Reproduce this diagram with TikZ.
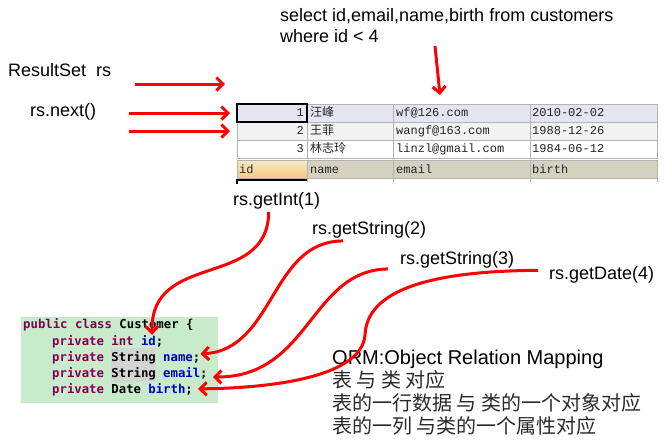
\documentclass[tikz,border=0pt]{standalone}
\usepackage{fontspec}
\setmainfont{Liberation Sans}
\newfontfamily\cjk{Noto Sans CJK SC}
\newfontfamily\codefont{DejaVu Sans Mono}
\newfontfamily\tabfont{Liberation Mono}
\usetikzlibrary{arrows.meta}
\definecolor{arrred}{HTML}{FF0000}
\definecolor{kw}{HTML}{7F0055}
\definecolor{fld}{HTML}{0000C0}
\definecolor{codebg}{HTML}{C8ECCB}
\definecolor{hl}{HTML}{D4D4D4}
\definecolor{rowa}{HTML}{E3E6F1}
\definecolor{rowb}{HTML}{F3F3F3}
\definecolor{hdr}{HTML}{D5D1C1}
\definecolor{hdrtop}{HTML}{FBE9C6}
\definecolor{hdrbot}{HTML}{F2CA84}
\definecolor{gridc}{HTML}{B4B4B4}
\definecolor{tabtxt}{HTML}{262626}
\definecolor{cntxt}{HTML}{2A2A2A}
\begin{document}
\begin{tikzpicture}[x=1pt,y=-1pt,
  lbl/.style={inner sep=0pt,anchor=base west,font=\fontsize{18}{21}\selectfont},
  cnline/.style={inner sep=0pt,anchor=base west,text=cntxt,font=\cjk\fontsize{20}{23}\selectfont},
  tab/.style={inner sep=0pt,anchor=base west,text=tabtxt,font=\tabfont\fontsize{12}{14}\selectfont},
  tabcn/.style={inner sep=0pt,anchor=base west,text=tabtxt,font=\cjk\fontsize{12}{14}\selectfont},
  code/.style={inner sep=0pt,anchor=base west,font=\codefont\bfseries\fontsize{12.3}{15}\selectfont},
  redarr/.style={draw=arrred,line width=3pt,-{Straight Barb[length=6.5pt,width=13pt]}},
  cell/.style={draw=gridc,line width=0.8pt,minimum height=18pt,inner sep=0pt,outer sep=0pt,anchor=north west},
]
\useasboundingbox (0,0) rectangle (672,440);

% ---- SQL text ----
\node[lbl] (sql1) at (280,21) {select id,email,name,birth from customers};
\node[lbl] (sql2) at (280,42) {where id < 4};

% ---- left labels ----
\node[lbl] (rs) at (8,76) {ResultSet\ \ rs};
\node[lbl] (next) at (30,116) {rs.next()};

% ---- table ----
\foreach \r/\y/\f in {1/104/rowa,2/122/rowb,3/140/white}{
  \foreach \c/\x/\w in {1/237/70,2/307/86,3/393/137,4/530/127}{
    \node[cell,fill=\f,minimum width=\w pt] (c\r\c) at (\x,\y) {};
  }
}
\foreach \c/\x/\w in {1/237/70,2/307/86,3/393/137,4/530/127}{
  \node[cell,fill=hdr,minimum width=\w pt] (h\c) at (\x,160) {};
}
\node[cell,top color=hdrtop,bottom color=hdrbot,minimum width=70pt] (h1) at (237,160) {};
\draw[black,line width=2pt] (c11.north west) rectangle (c11.south east);
\draw[black,line width=2pt] (h1.south west) ++(0,6) -- ++(0,-4) -- ++(70,0);
\draw[gridc,line width=0.8pt] (h2.south west) -- ++(0,4) (h3.south west) -- ++(0,4) (h4.south west) -- ++(0,4) (h4.south east) -- ++(0,4);

\node[tab,anchor=base east] (v11) at (304,116.5) {1};
\node[tabcn] (v12) at (310,116.5) {汪峰};
\node[tab] (v13) at (396,116.5) {wf@126.com};
\node[tab] (v14) at (532,116.5) {2010-02-02};
\node[tab,anchor=base east] (v21) at (304,134.5) {2};
\node[tabcn] (v22) at (310,134.5) {王菲};
\node[tab] (v23) at (396,134.5) {wangf@163.com};
\node[tab] (v24) at (532,134.5) {1988-12-26};
\node[tab,anchor=base east] (v31) at (304,152.5) {3};
\node[tabcn] (v32) at (310,152.5) {林志玲};
\node[tab] (v33) at (396,152.5) {linzl@gmail.com};
\node[tab] (v34) at (532,152.5) {1984-06-12};
\node[tab] (t1) at (239,173) {id};
\node[tab] (t2) at (310,173) {name};
\node[tab] (t3) at (396,173) {email};
\node[tab] (t4) at (532,173) {birth};

% ---- getter labels ----
\node[lbl] (gi) at (233,205) {rs.getInt(1)};
\node[lbl] (gs2) at (312,234) {rs.getString(2)};
\node[lbl] (gs3) at (400,264) {rs.getString(3)};
\node[lbl] (gd4) at (549,279) {rs.getDate(4)};

% ---- code box ----
\node[fill=codebg,anchor=north west,minimum width=197pt,minimum height=86pt,inner sep=0pt] (codebox) at (21,317) {};
\fill[hl] (111,348) rectangle (156,382);
\node[code] (cl1) at (23,328) {\textcolor{kw}{public class} Customer \{};
\node[code] (cl2) at (52,345) {\textcolor{kw}{private int}};
\node[code] (fid) at (140.8,345) {\textcolor{fld}{id};};
\node[code] (cl3) at (52,361) {\textcolor{kw}{private} String};
\node[code] (fname) at (163,361) {\textcolor{fld}{name};};
\node[code] (cl4) at (52,377) {\textcolor{kw}{private} String};
\node[code] (femail) at (163,377) {\textcolor{fld}{email};};
\node[code] (cl5) at (52,393) {\textcolor{kw}{private} Date};
\node[code] (fbirth) at (148.2,393) {\textcolor{fld}{birth};};

% ---- ORM text ----
\node[lbl,font=\fontsize{20}{24}\selectfont] (orm) at (332,364) {ORM:Object Relation Mapping};
\node[cnline] (cn1) at (332,387) {表 与 类 对应};
\node[cnline] (cn2) at (332,410) {表的一行数据 与 类的一个对象对应};
\node[cnline] (cn3) at (332,433) {表的一列 与类的一个属性对应};

% ---- straight arrows ----
\coordinate (a1s) at (135,84);
\coordinate (a1e) at (225,84);
\coordinate (a2s) at (129,113);
\coordinate (a3s) at (129,131);
\coordinate (qs) at (435,46);
\coordinate (qe) at (440,95);
\draw[redarr] (a1s) -- (a1e);
\draw[redarr] (a2s) -- ([xshift=-7pt]c11.west);
\draw[redarr] (a3s) -- ([xshift=-7pt]c21.west);
\draw[redarr] (qs) -- (qe);

% ---- curved arrows ----
\draw[redarr] ([shift={(-8,3)}]gi.south) .. controls (268,290) and (150,250) .. (fid.north);
\draw[redarr] ([shift={(31,3)}]gs2.south west) .. controls (270,241) and (275,350) .. (fname.north east);
\draw[redarr] ([shift={(-12,1)}]gs3.south west) .. controls (310,270) and (310,378) .. ([shift={(5,-2)}]femail.south east);
\draw[redarr] ([shift={(-11,-4)}]gd4.west) .. controls (430,271) and (367,290) .. (365,335) .. controls (362,375) and (280,388) .. ([xshift=5pt]fbirth.east);
\end{tikzpicture}
\end{document}
